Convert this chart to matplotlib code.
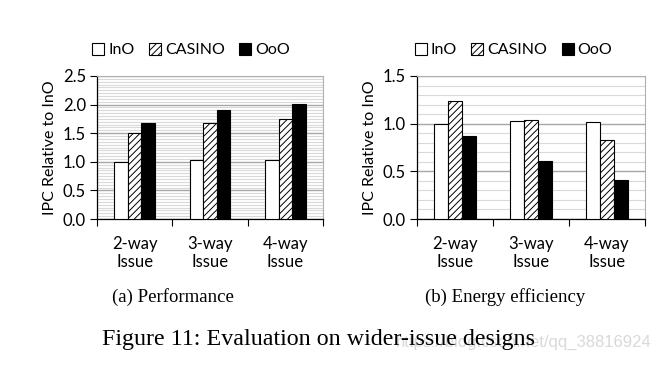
import numpy as np
import matplotlib
matplotlib.use("Agg")
import matplotlib.pyplot as plt
from matplotlib.ticker import MultipleLocator

# data
categories = ["2-way\nIssue", "3-way\nIssue", "4-way\nIssue"]
series = ["InO", "CASINO", "OoO"]
perf_ino = [1.00, 1.03, 1.04]
perf_casino = [1.51, 1.67, 1.74]
perf_ooo = [1.68, 1.91, 2.01]
energy_ino = [1.00, 1.03, 1.02]
energy_casino = [1.24, 1.04, 0.83]
energy_ooo = [0.87, 0.61, 0.41]

plt.rcParams['font.family'] = ['Lato', 'DejaVu Sans']
plt.rcParams['hatch.linewidth'] = 0.7

fig = plt.figure(figsize=(6.64, 3.66), dpi=100)
W, H = 664, 366


def panel(rect, vals, ymax, minor, leg_x):
    ax = fig.add_axes([rect[0] / W, 1 - rect[3] / H, (rect[2] - rect[0]) / W, (rect[3] - rect[1]) / H])
    x = np.arange(len(categories))
    w = 0.18
    styles = [dict(color="white", edgecolor="black"),
              dict(color="white", edgecolor="black", hatch="/////"),
              dict(color="black", edgecolor="black")]
    for i, (name, v) in enumerate(zip(series, vals)):
        ax.bar(x + (i - 1) * w, v, w, label=name, linewidth=0.8, zorder=3, **styles[i])
    ax.set_xlim(-0.5, len(categories) - 0.5)
    ax.set_ylim(0, ymax)
    ax.yaxis.set_major_locator(MultipleLocator(0.5))
    ax.yaxis.set_minor_locator(MultipleLocator(minor))
    ax.yaxis.set_major_formatter(matplotlib.ticker.FormatStrFormatter("%.1f"))
    ax.grid(axis="y", which="major", color="#a6a6a6", linewidth=1.0, zorder=0)
    ax.grid(axis="y", which="minor", color="#d9d9d9", linewidth=0.8, zorder=0)
    ax.tick_params(axis="y", which="minor", length=0)
    ax.tick_params(axis="y", which="major", length=5, width=0.8, labelsize=12, pad=3)
    # category boundary ticks on x
    ax.set_xticks(np.arange(-0.5, len(categories), 1.0))
    ax.set_xticklabels([])
    ax.set_xticks(x, minor=True)
    ax.set_xticklabels(categories, minor=True, fontsize=12, linespacing=1.15)
    ax.tick_params(axis="x", which="major", length=5, width=0.8)
    ax.tick_params(axis="x", which="minor", length=0, pad=12)
    for s in ["top", "right"]:
        ax.spines[s].set_color("#b0b0b0")
    for s in ["left", "bottom"]:
        ax.spines[s].set_color("black")
        ax.spines[s].set_linewidth(0.9)
    ax.set_ylabel("IPC Relative to InO", fontsize=11.5, labelpad=4)
    ax.legend(loc="lower left", bbox_to_anchor=(leg_x, 1.13), ncol=3, frameon=False,
              fontsize=11.5, handlelength=0.75, handleheight=0.75, handletextpad=0.25,
              columnspacing=0.9, borderaxespad=0.0, borderpad=0.0)
    return ax


panel((97, 76, 323, 219), [perf_ino, perf_casino, perf_ooo], 2.5, 0.05, -0.02)
panel((417, 76, 645, 219), [energy_ino, energy_casino, energy_ooo], 1.5, 0.1, -0.01)

serif = ['Liberation Serif', 'DejaVu Serif']
fig.text(173 / W, 1 - 297 / H, "(a) Performance", ha="center", va="center", fontsize=13.5, family=serif)
fig.text(505 / W, 1 - 297 / H, "(b) Energy efficiency", ha="center", va="center", fontsize=13.5, family=serif)
fig.text(652 / W, 1 - 342 / H, "https://blog.csdn.net/qq_38816924", ha="right", va="center",
         fontsize=12, color="#d9d9d9", family=['Liberation Sans', 'DejaVu Sans'])
fig.text(318 / W, 1 - 340 / H, "Figure 11: Evaluation on wider-issue designs", ha="center", va="center",
         fontsize=17.3, family=serif)

fig.savefig("out.png", dpi=100)
